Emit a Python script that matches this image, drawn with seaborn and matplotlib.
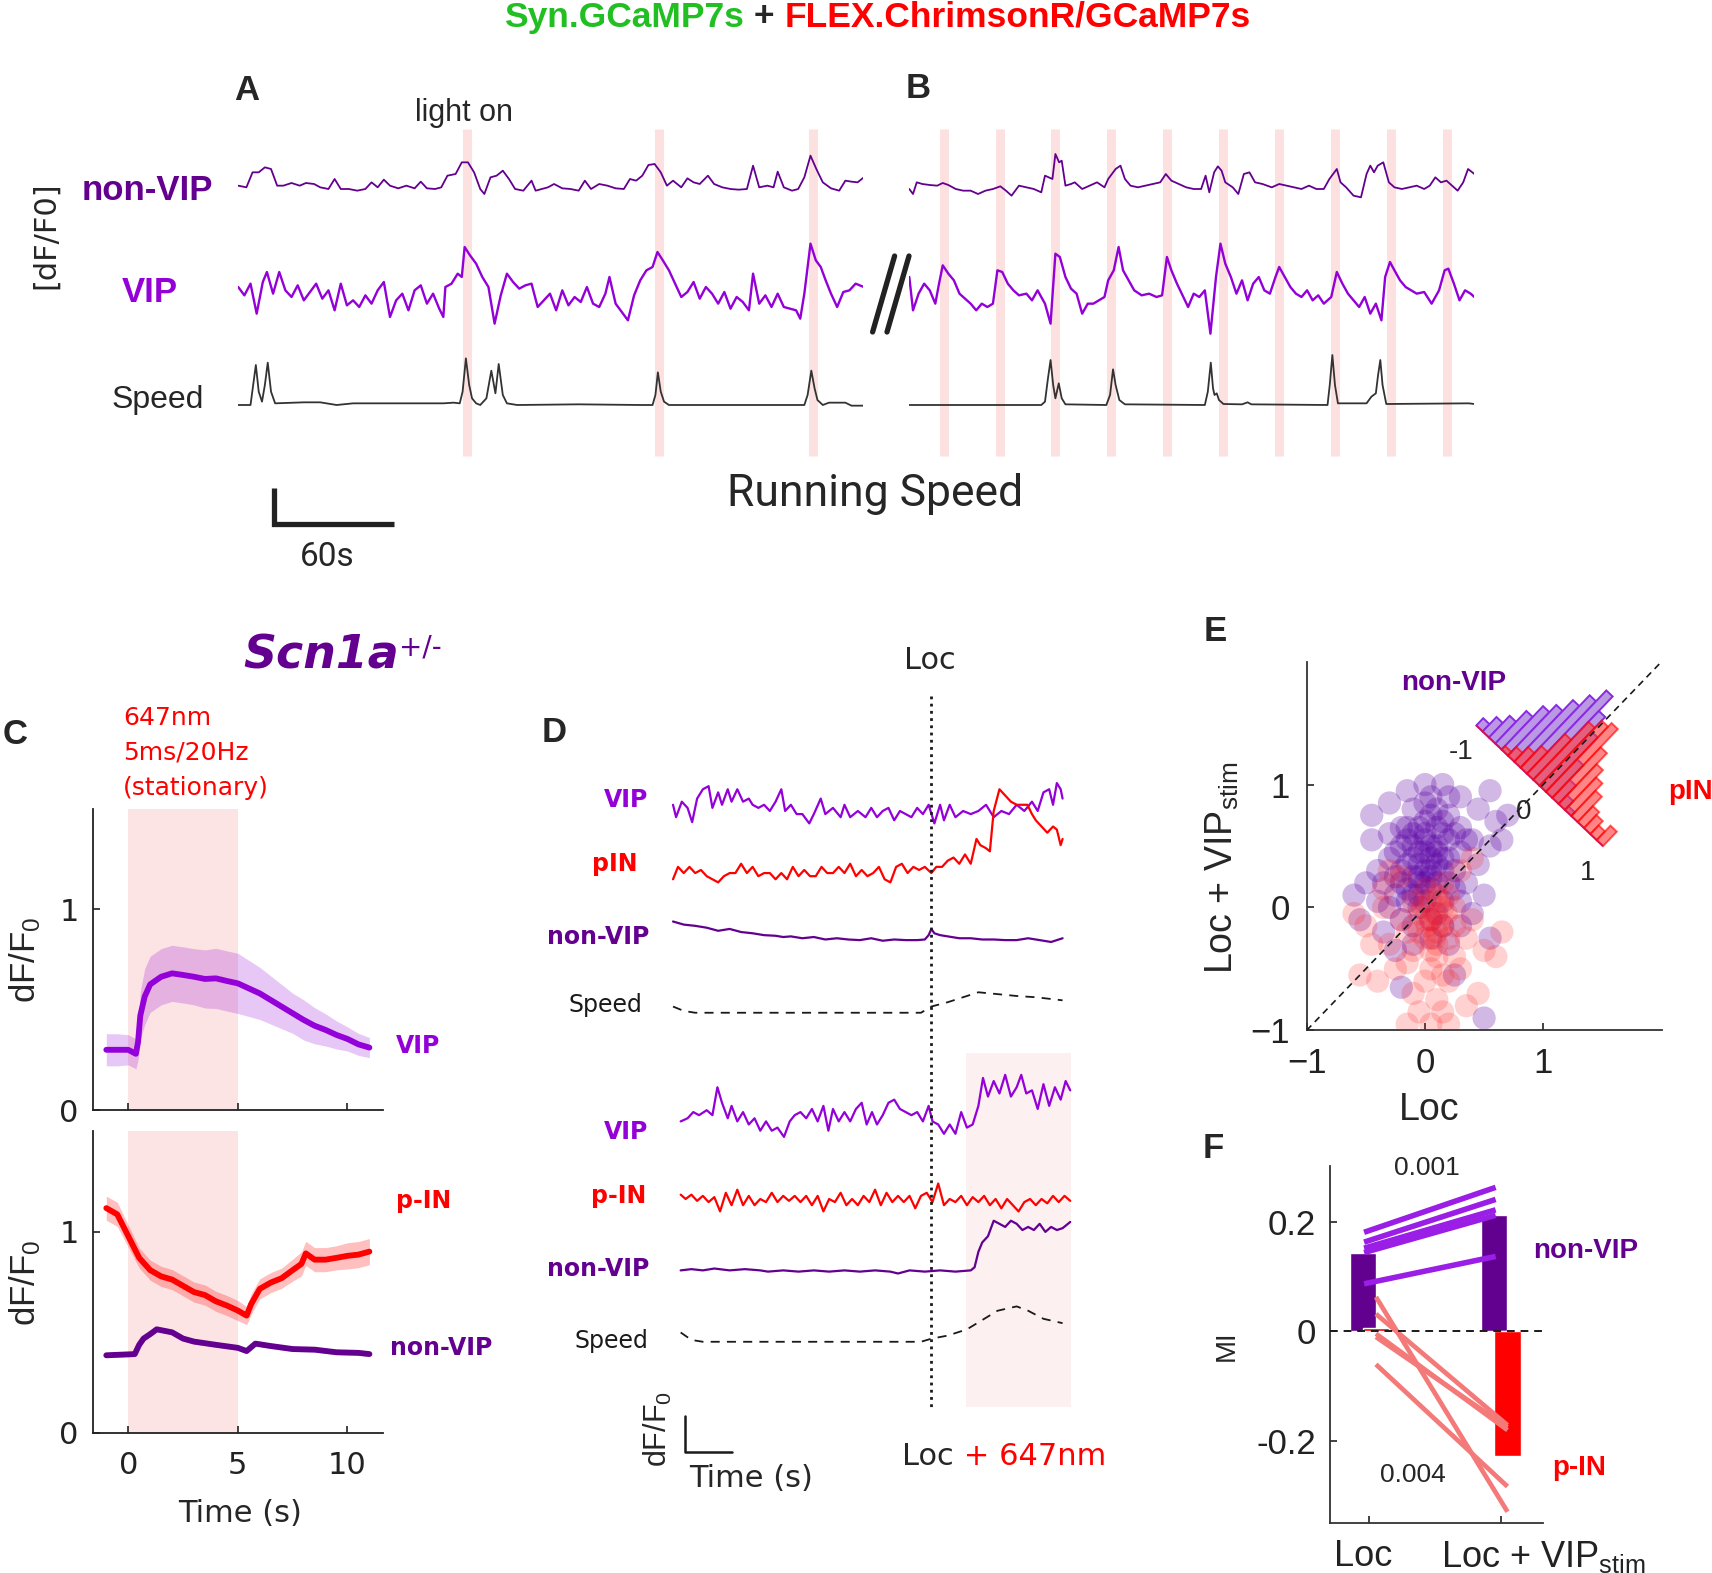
import numpy as np
import matplotlib
matplotlib.use("Agg")
import matplotlib.pyplot as plt
import seaborn as sns
from matplotlib.lines import Line2D
from matplotlib.transforms import Affine2D, ScaledTranslation

sns.set_theme(style="ticks")
plt.rcParams["font.family"] = ["Liberation Sans", "DejaVu Sans"]
plt.rcParams["mathtext.default"] = "regular"

# ---------------- data ----------------
# A / B : example traces, x in imaging frames, y in trace units
FPS = 4.875  # frames per second for panels A/B

a_light = [577, 1046, 1420]
b_light = [118, 268, 418, 568, 718, 870, 1020, 1170, 1320, 1472]

a_nv_x = [20, 40, 55, 70, 85, 100, 115, 130, 150, 170, 185, 205, 220, 240, 255, 270, 290, 310, 330, 345,
          360, 375, 390, 410, 430, 450, 465, 480, 500, 515, 530, 550, 565, 580, 595, 610, 620, 635, 650, 665,
          680, 695, 715, 735, 745, 760, 775, 790, 810, 830, 850, 865, 880, 900, 920, 940, 960, 975, 990, 1005,
          1020, 1035, 1050, 1065, 1080, 1100, 1115, 1130, 1145, 1165, 1180, 1200, 1220, 1240, 1260, 1275, 1290,
          1310, 1325, 1335, 1350, 1370, 1385, 1400, 1415, 1430, 1445, 1465, 1485, 1500, 1515, 1530, 1545]
a_nv_y = [10, 5, 50, 50, 65, 60, 10, 10, 18, 10, 18, 15, 5, 0, 30, 0, 0, -5, 0, 20,
          5, 28, 10, 2, 10, 2, 22, 2, 0, 5, 40, 45, 80, 80, 50, 0, -15, 35, 40, 55,
          30, 0, -5, 25, -5, 0, 5, 15, 2, 0, -5, 25, 0, 15, 10, 2, 0, 30, 25, 40,
          72, 75, 50, 10, 25, 5, 32, 20, 15, 40, 15, 5, 0, -2, 0, 70, 5,
          10, 5, 52, 5, -5, 0, 35, 100, 58, 20, 2, -5, 25, 22, 20, 35]

a_vip_x = [20, 35, 50, 65, 80, 90, 105, 120, 135, 150, 165, 180, 195, 210, 225, 240, 255, 270, 285, 300,
           315, 330, 345, 360, 375, 390, 405, 420, 435, 450, 465, 480, 495, 510, 520, 525, 540, 555, 565, 572,
           585, 600, 615, 630, 645, 660, 675, 690, 705, 720, 735, 750, 765, 780, 795, 810, 825, 840, 855, 870,
           885, 900, 915, 925, 940, 955, 970, 985, 1000, 1015, 1030, 1042, 1055, 1070, 1085, 1100, 1115, 1130,
           1145, 1160, 1175, 1190, 1205, 1220, 1235, 1250, 1265, 1275, 1290, 1305, 1320, 1335, 1350, 1365,
           1380, 1390, 1400, 1415, 1428, 1440, 1452, 1465, 1480, 1495, 1510, 1525, 1545]
a_vip_y = [30, 5, 40, -50, 45, 75, 10, 75, 20, 0, 35, -10, 15, 40, -5, 20, -40, 40, -25, -10,
           -30, 5, -20, 20, 45, -60, -10, 10, -40, 20, 35, -20, 10, -35, -60, 30, 40, 70, 60, 150,
           125, 100, 60, 30, -80, 5, 70, 45, 25, 35, 40, -30, -10, 10, -40, 20, -25, 0, -15, 30,
           -20, -30, 10, 60, -20, -45, -70, 5, 50, 80, 90, 135, 110, 80, 40, 0, 15, 45,
           -5, 30, 10, -20, 15, -35, 0, -15, -40, 70, -20, 5, -30, 10, -30, -35,
           -40, -65, 10, 160, 110, 90, 50, 10, -30, 15, 20, 40, 30]

a_spd_x = [20, 50, 63, 70, 78, 85, 92, 100, 110, 180, 220, 260, 300, 340, 450, 520, 545, 560, 567, 575,
           583, 590, 600, 610, 625, 637, 647, 655, 665, 675, 700, 850, 1000, 1030, 1037, 1043, 1050, 1058,
           1070, 1300, 1400, 1408, 1417, 1425, 1432, 1445, 1460, 1500, 1515, 1545]
a_spd_y = [0, 0, 120, 40, 10, 60, 127, 40, 5, 8, 8, 0, 5, 5, 5, 5, 7, 5, 40, 140,
           60, 20, 5, 0, 20, 103, 35, 123, 30, 5, 0, 2, 0, 0, 30, 98, 40, 10,
           0, 0, 0, 30, 103, 50, 15, 0, 7, 7, -2, -2]

b_nv_x = [25, 35, 45, 60, 80, 100, 115, 130, 150, 170, 190, 210, 230, 250, 270, 285, 300, 320, 340, 360,
          380, 390, 400, 410, 418, 428, 435, 445, 460, 470, 490, 510, 530, 550, 560, 570, 580, 593, 605, 620,
          640, 660, 680, 700, 715, 730, 750, 770, 790, 810, 822, 832, 845, 855, 865, 875, 895, 910, 925, 940,
          955, 975, 1000, 1020, 1040, 1060, 1080, 1100, 1120, 1140, 1155, 1165, 1175, 1185, 1200, 1220, 1240,
          1255, 1265, 1275, 1285, 1300, 1315, 1330, 1350, 1370, 1390, 1410, 1425, 1440, 1455, 1470, 1485,
          1500, 1515, 1528, 1545]
b_nv_y = [0, -15, 20, 15, 12, 10, 18, 12, 0, -5, -5, -15, -5, 0, 8, -5, -20, 10, 5, 0,
          -10, 40, 35, 30, 105, 80, 85, 10, 15, 20, 0, 10, 20, 5, 30, 45, 60, 70, 30, 10,
          5, 10, 15, 20, 45, 25, 15, 5, 0, 0, 40, -10, 50, 68, 55, 20, 5, -15, 45, 50,
          20, 15, 5, 15, 10, 5, 0, 10, 0, 0, 30, 45, 60, 20, 5, -20, -25,
          45, 70, 50, 70, 80, 20, 5, 0, 5, 10, 0, 10, 35, 20, 25, 10,
          -5, 20, 60, 45]

b_vip_x = [25, 35, 50, 65, 80, 95, 105, 115, 130, 145, 160, 175, 190, 205, 220, 235, 250, 262, 275, 290,
           305, 320, 340, 355, 370, 390, 405, 418, 430, 445, 460, 475, 490, 505, 520, 535, 550, 560, 575, 588,
           600, 615, 630, 650, 670, 690, 705, 718, 730, 745, 760, 775, 790, 805, 820, 835, 850, 862, 875, 890,
           905, 920, 935, 950, 965, 980, 995, 1010, 1020, 1035, 1050, 1065, 1080, 1095, 1110, 1125, 1140, 1160,
           1175, 1190, 1205, 1220, 1235, 1250, 1265, 1280, 1295, 1305, 1318, 1330, 1345, 1360, 1375, 1390,
           1410, 1430, 1450, 1465, 1475, 1490, 1505, 1520, 1535, 1545]
b_vip_y = [60, -40, 10, 40, 20, -20, 40, 95, 70, 50, 10, -5, -20, -40, -20, -30, -20, 80, 75, 40,
           20, 5, 10, -10, 20, -20, -80, 130, 120, 60, 25, 10, -50, -20, -20, -10, 0, 50, 80, 150,
           80, 50, 20, 5, 10, 0, 5, 120, 80, 40, 5, -30, 10, 0, 20, -110, 60, 160, 100, 60,
           10, 50, -10, 40, 60, 20, 10, 60, 90, 60, 30, 10, 0, 20, -10, 5, -20, 0,
           75, 40, 10, -10, -30, 0, -50, -20, -70, 60, 105, 80, 50, 30, 20, 10,
           15, -20, 20, 80, 85, 40, -10, 20, 10, 0]

b_spd_x = [25, 380, 390, 398, 405, 412, 418, 427, 435, 445, 555, 565, 573, 580, 590, 605, 820, 828, 836, 842,
           846, 852, 858, 870, 920, 935, 945, 1150, 1156, 1163, 1170, 1178, 1255, 1268, 1280, 1286, 1292, 1298,
           1308, 1530, 1545]
b_spd_y = [0, 0, 10, 80, 135, 60, 20, 65, 20, 2, 0, 30, 107, 60, 15, 2, 0, 40, 127, 50,
           30, 35, 15, 3, 2, 8, 2, 0, 60, 150, 60, 5, 5, 25, 35, 90, 135, 60,
           3, 5, 3]

# C : mean +/- sem, dF/F0 vs time (s)
c_vip_t = [-1, -0.5, 0, 0.35, 0.45, 0.55, 0.75, 1, 1.5, 2, 2.5, 3, 3.5, 4, 4.5, 5, 5.5, 6, 6.5, 7, 7.5, 8,
           8.5, 9, 9.5, 10, 10.5, 11]
c_vip_mean = [0.30, 0.30, 0.30, 0.28, 0.34, 0.47, 0.565, 0.626, 0.664, 0.681, 0.673, 0.664, 0.653, 0.656,
              0.643, 0.631, 0.606, 0.581, 0.548, 0.515, 0.482, 0.449, 0.42, 0.399, 0.374, 0.354, 0.327, 0.311]
c_vip_err = [0.08, 0.08, 0.075, 0.075, 0.09, 0.12, 0.14, 0.14, 0.14, 0.14, 0.14, 0.14, 0.145, 0.15, 0.15,
             0.15, 0.14, 0.13, 0.12, 0.11, 0.1, 0.1, 0.09, 0.08, 0.07, 0.06, 0.055, 0.05]

c_pin_t = [-1, -0.5, 0, 0.5, 1, 1.5, 2, 2.5, 3, 3.5, 4, 4.5, 5, 5.4, 5.6, 6, 6.5, 7, 7.5, 7.9, 8.1, 8.5, 9,
           9.5, 10, 10.5, 11]
c_pin_mean = [1.117, 1.086, 0.978, 0.87, 0.809, 0.778, 0.762, 0.731, 0.70, 0.685, 0.654, 0.633, 0.608,
              0.583, 0.639, 0.716, 0.747, 0.769, 0.809, 0.84, 0.892, 0.861, 0.861, 0.87, 0.88, 0.886, 0.901]
c_pin_err = [0.06, 0.06, 0.055, 0.05, 0.05, 0.05, 0.05, 0.05, 0.05, 0.05, 0.05, 0.05, 0.05, 0.045, 0.05,
             0.05, 0.05, 0.05, 0.055, 0.06, 0.06, 0.06, 0.06, 0.06, 0.065, 0.065, 0.065]

c_nv_t = [-1, 0.3, 0.5, 0.7, 1, 1.3, 2, 2.5, 3, 4, 5, 5.4, 5.8, 6.5, 7.5, 8.5, 9.5, 10.5, 11]
c_nv_mean = [0.386, 0.392, 0.438, 0.469, 0.491, 0.515, 0.5, 0.469, 0.454, 0.438, 0.423, 0.407, 0.444,
             0.432, 0.417, 0.414, 0.401, 0.398, 0.392]
c_nv_err = [0.012] * len(c_nv_t)

# D : single-trial examples, x in frames (Loc onset at frame 1127), y in trace units
LOC_FRAME = 1127
d1_vip_x = [452, 460, 475, 490, 502, 515, 530, 545, 555, 570, 580, 595, 605, 620, 635, 650, 660, 675, 690,
            705, 720, 735, 745, 760, 775, 790, 808, 820, 838, 850, 870, 890, 900, 915, 935, 955, 970, 985,
            1000, 1015, 1030, 1045, 1060, 1075, 1090, 1105, 1120, 1135, 1150, 1160, 1175, 1190, 1210, 1230,
            1250, 1270, 1290, 1310, 1330, 1350, 1370, 1390, 1405, 1420, 1435, 1445, 1455, 1465, 1470]
d1_vip_y = [15, -5, 20, 10, -13, 25, 40, 45, 10, 35, 15, 40, 20, 40, 20, 25, 15, 10, 15,
            5, 20, 40, 5, 15, 0, 0, -15, 0, 25, 0, 10, -5, 15, -5, 5, -5, 10, -5,
            5, 10, -10, 5, 0, -5, 10, 0, 15, -15, 15, -10, 15, -5, 5, 0,
            5, 15, -5, 5, 0, 15, 5, 20, 5, 35, 40, 15, 50, 40, 25]
d1_pin_x = [452, 465, 480, 495, 510, 525, 540, 555, 570, 585, 600, 615, 630, 645, 660, 675, 690, 705, 720,
            735, 750, 765, 780, 795, 810, 825, 840, 855, 870, 885, 900, 915, 930, 945, 960, 975, 990, 1005,
            1020, 1035, 1050, 1065, 1080, 1095, 1110, 1127, 1140, 1155, 1170, 1185, 1200, 1215, 1230, 1245,
            1255, 1270, 1280, 1290, 1305, 1320, 1335, 1350, 1365, 1378, 1390, 1400, 1415, 1430, 1445, 1455,
            1465, 1470]
d1_pin_y = [-5, 15, 5, 15, 5, 10, 0, -5, -10, 0, 5, 5, 20, 5, 15, 0, 5, 5, -5,
            5, -5, 15, 0, 10, 0, 0, 15, 5, 5, 15, 5, 20, 0, 10, 0, 5, 15, -5,
            -10, 15, 20, 5, 15, 10, 15, 5, 15, 15, 25, 30, 20, 35, 20, 60,
            50, 45, 40, 105, 140, 130, 120, 115, 115, 115, 100, 90, 80, 70, 80, 75,
            50, 60]
d1_nv_x = [452, 480, 510, 540, 570, 600, 630, 660, 690, 720, 740, 760, 790, 820, 850, 880, 910, 940, 970,
           1000, 1030, 1060, 1090, 1110, 1120, 1127, 1135, 1150, 1170, 1200, 1230, 1260, 1290, 1320, 1350,
           1380, 1410, 1440, 1470]
d1_nv_y = [27, 22, 20, 17, 12, 15, 10, 8, 5, 4, 2, 3, 0, 2, -2, 0, -2, -3, 0,
           -4, -2, -3, -3, -2, 5, 15, 8, 5, 3, 0, 0, -2, -2, -3, -3,
           0, -3, -6, 0]
d1_spd_x = [452, 480, 510, 600, 700, 800, 900, 1000, 1100, 1127, 1170, 1210, 1250, 1300, 1350, 1400, 1470]
d1_spd_y = [10, 3, 0, 0, 0, 0, 0, 0, 0, 10, 17, 25, 33, 30, 27, 25, 20]

d2_vip_x = [472, 490, 505, 520, 540, 555, 568, 580, 595, 605, 620, 635, 650, 665, 680, 695, 710, 725, 742,
            757, 770, 785, 800, 815, 830, 845, 858, 870, 885, 900, 915, 930, 945, 958, 972, 985, 1000, 1015,
            1030, 1045, 1060, 1075, 1090, 1105, 1120, 1130, 1145, 1160, 1175, 1190, 1205, 1220, 1235, 1250,
            1262, 1275, 1290, 1305, 1320, 1335, 1350, 1362, 1375, 1390, 1405, 1420, 1435, 1450, 1465, 1478,
            1490]
d2_vip_y = [0, 5, 15, 10, 18, 10, 55, 30, 5, 25, 0, 15, -5, 5, -15, 0, -15, -10, -25,
            0, 10, 15, 5, 20, 0, 25, -15, 20, 0, 15, 0, 20, 30, -5, 15, -5, 10, 30,
            35, 20, 15, 10, 15, 0, 25, 0, -5, -20, -5, -20, 15, -10, -5, 25,
            70, 40, 65, 45, 75, 40, 55, 75, 45, 50, 20, 60, 25, 55, 35, 65,
            50]
d2_pin_x = [472, 485, 500, 515, 530, 545, 560, 575, 590, 605, 620, 635, 650, 665, 680, 695, 710, 725, 740,
            755, 770, 785, 800, 815, 830, 845, 860, 875, 890, 905, 920, 935, 950, 965, 980, 995, 1010, 1025,
            1040, 1055, 1070, 1085, 1100, 1115, 1130, 1145, 1160, 1175, 1190, 1205, 1220, 1235, 1250, 1265,
            1280, 1295, 1310, 1325, 1340, 1355, 1370, 1385, 1400, 1415, 1430, 1445, 1460, 1475, 1490]
d2_pin_y = [7, 0, 7, -3, 5, -5, 3, -20, 10, -10, 15, -10, 5, -10, 0, -5, 10, -5, 5,
            -3, 5, -5, 5, -10, 5, -20, 0, -5, 10, -10, 0, -10, 5, -5, 15, -10, 10, -5,
            5, -5, 5, -15, 5, 10, -5, 25, -10, 0, -5, 5, -10, 3, -5, 5,
            -10, 0, -15, 0, -10, -20, -5, 0, -10, 0, -7, 5, -5, 5, -3]
d2_nv_x = [472, 500, 530, 560, 600, 640, 680, 700, 740, 780, 820, 860, 900, 940, 980, 1020, 1040, 1070,
           1110, 1150, 1190, 1230, 1240, 1250, 1260, 1275, 1290, 1305, 1320, 1335, 1350, 1365, 1380, 1395,
           1410, 1425, 1440, 1455, 1470, 1490]
d2_nv_y = [0, 2, 0, 3, 0, 2, 0, -2, 0, -2, 0, -2, 0, -2, 0, -2, -5, 0,
           -2, 0, -2, 0, 5, 30, 45, 55, 80, 75, 70, 80, 75, 65, 70, 65,
           75, 62, 70, 65, 68, 78]
d2_spd_x = [472, 500, 530, 600, 700, 800, 900, 1000, 1100, 1127, 1170, 1220, 1260, 1300, 1350, 1380, 1420, 1470]
d2_spd_y = [15, 3, 0, 0, 0, 0, 0, 0, 0, 5, 10, 20, 35, 50, 57, 50, 37, 30]
d2_light = [1218, 1492]

# E : modulation index, Loc vs Loc + VIPstim
e_nv_x = [-0.2, -0.1, 0, 0.1, 0.2, -0.15, -0.05, 0.05, 0.15, 0.25, -0.2, -0.1, 0, 0.1, 0.2, -0.15, -0.05,
          0.05, 0.15, 0.3, -0.25, 0, 0.1, -0.1, 0.05, -0.05, 0.1, -0.2, 0.2, 0.3, -0.3, -0.3, -0.45, -0.5,
          -0.4, -0.35, -0.45, -0.3, -0.15, 0.0, 0.15, 0.3, 0.45, 0.55, 0.6, 0.65, 0.45, 0.5, 0.4, 0.3, 0.2,
          0.05, -0.1, -0.25, -0.55, -0.6, 0.7, 0.55, 0.35, 0.4, -0.4, 0.25, 0.5, -0.2, 0.55,
          -0.05, 0.05, 0.0, -0.1, 0.1, 0.0, -0.05, 0.05, 0.15, -0.15,
          -0.25, -0.15, -0.05, 0.05, 0.15, 0.25, -0.2, -0.1, 0.0, 0.1, 0.2, 0.25, -0.25, -0.15, -0.05,
          0.05, 0.15, -0.1, 0.0, 0.1, -0.2, 0.0, 0.2, -0.35, 0.35, -0.1, 0.15, 0.3, -0.3, 0.05]
e_nv_y = [0.5, 0.6, 0.7, 0.65, 0.55, 0.35, 0.45, 0.5, 0.4, 0.3, 0.2, 0.25, 0.3, 0.35, 0.2, 0.05, 0.1,
          0.15, 0.05, 0.45, 0.1, 0.55, 0.8, 0.8, 0.9, 0.0, -0.05, -0.1, 0.75, 0.65, 0.4, 0.6, 0.55, 0.2,
          0.05, -0.2, 0.75, 0.85, 0.95, 1.0, 1.0, 0.9, 0.8, 0.95, 0.7, 0.55, 0.35, 0.1, -0.05, -0.15, -0.3,
          -0.25, -0.3, -0.35, -0.1, 0.1, 0.75, -0.25, 0.2, 0.55, 0.3, -0.55, -0.9, -0.65, 0.5,
          0.35, 0.4, 0.2, 0.5, 0.5, 0.6, 0.25, 0.3, 0.6, 0.65,
          0.45, 0.55, 0.65, 0.75, 0.7, 0.6, 0.3, 0.4, 0.45, 0.45, 0.4, 0.15, 0.25, 0.15, 0.2,
          0.25, 0.3, 0.1, 0.05, 0.2, 0.65, 0.85, 0.9, 0.2, 0.55, -0.15, -0.15, 0.05, 0.0, -0.1]
e_pin_x = [0.05, 0.1, 0.0, 0.15, 0.1, 0.05, -0.05, 0.15, 0.2, 0.1, -0.05, 0.0, 0.15, 0.05, -0.3, -0.25,
           -0.2, -0.35, -0.15, 0.25, 0.35, 0.3, 0.2, 0.0, -0.1, 0.1, 0.15, 0.05, -0.05, -0.4, -0.45, -0.5,
           0.4, 0.5, 0.6, 0.45, 0.65, -0.6, -0.3, -0.35, 0.3, 0.4, -0.2, 0.25, -0.1, -0.55, 0.2, -0.15, 0.35,
           0.08, 0.12, 0.02,
           0.08, 0.12, 0.0, 0.18, -0.02, 0.1, 0.2, -0.1, 0.05, -0.15, 0.25, 0.15]
e_pin_y = [-0.1, -0.2, -0.25, 0.0, 0.1, 0.05, -0.05, -0.15, 0.1, -0.3, -0.2, 0.15, 0.2, -0.35, -0.3, -0.5,
           -0.1, 0.0, -0.45, -0.4, -0.25, -0.5, -0.6, -0.6, -0.7, -0.75, -0.85, -0.95, -0.85, -0.6, -0.3, -0.15,
           -0.1, -0.35, -0.4, -0.7, -0.2, -0.05, 0.3, 0.15, 0.3, 0.4, 0.25, -0.15, 0.05, -0.55, -0.95, -0.95, -0.8,
           -0.05, -0.12, -0.15,
           -0.25, 0.05, -0.1, -0.05, 0.0, -0.4, -0.25, -0.35, -0.5, -0.2, 0.0, -0.55]

# E inset: histogram of (Loc + VIPstim) - Loc, projected on the anti-diagonal
e_hist_bins = [-0.95, -0.85, -0.75, -0.65, -0.55, -0.45, -0.35, -0.25, -0.15, -0.05,
               0.05, 0.15, 0.25, 0.35, 0.45, 0.55, 0.65, 0.75, 0.85, 0.95]
e_hist_nv = [10, 20, 30, 45, 60, 70, 85, 100, 115, 95, 75, 45, 25, 12, 5, 0, 0, 0, 0, 0]
e_hist_pin = [0, 0, 0, 0, 5, 12, 20, 30, 55, 80, 90, 95, 70, 55, 45, 35, 22, 18, 12, 20]

# F : MI per condition
f_conditions = ["Loc", "Loc + VIP$_{stim}$"]
f_nv_bar = [0.143, 0.212]
f_pin_bar = [0.006, -0.228]
f_nv_loc = [0.181, 0.163, 0.152, 0.144, 0.087]
f_nv_stim = [0.263, 0.241, 0.222, 0.212, 0.137]
f_pin_loc = [0.063, 0.032, -0.004, -0.010, -0.06]
f_pin_stim = [-0.329, -0.171, -0.18, -0.175, -0.283]

# ---------------- style ----------------
VIP = "#9400d8"
NONVIP = "#63008f"
RED = "#ff0000"
GREEN = "#22bf22"
BAR_PINK = "#fde0e0"
STIM_PINK = "#fde4e4"

W, H = 1712, 1573
fig = plt.figure(figsize=(W / 100, H / 100), dpi=100)


def fx(x):
    return x / W


def fy(y):
    return 1 - y / H


def add_ax(l, t, r, b):
    return fig.add_axes([fx(l), fy(b), (r - l) / W, (b - t) / H])


def ftext(x, y, s, **kw):
    kw.setdefault("ha", "center")
    kw.setdefault("va", "center")
    return fig.text(fx(x), fy(y), s, **kw)


# ---------------- A / B ----------------
ax_a = add_ax(238, 120, 863, 560)
ax_b = add_ax(909, 120, 1474, 560)
ax_a.set_xlim(19.5, 1543)
ax_b.set_xlim(24.2, 1544)
for ax in (ax_a, ax_b):
    ax.set_ylim(0, 440)
    ax.axis("off")
ax_a.vlines(a_light, 104, 431, color=BAR_PINK, lw=6.5, zorder=0)
ax_b.vlines(b_light, 104, 431, color=BAR_PINK, lw=6.5, zorder=0)

for ax, nx, ny, vx, vy, sx, sy in ((ax_a, a_nv_x, a_nv_y, a_vip_x, a_vip_y, a_spd_x, a_spd_y),
                                   (ax_b, b_nv_x, b_nv_y, b_vip_x, b_vip_y, b_spd_x, b_spd_y)):
    ax.plot(nx, 371 + np.array(ny) / 3, color=NONVIP, lw=1.3)
    ax.plot(vx, 263 + np.array(vy) / 3, color=VIP, lw=1.7)
    ax.plot(sx, 155 + np.array(sy) / 3, color="#333333", lw=1.3)

# 60 s scale bar
ax_a.plot([107, 107, 107 + 60 * FPS], [72, 36, 36], color="#222222", lw=3.8,
          solid_capstyle="butt", solid_joinstyle="miter", clip_on=False)

for x0, x1 in ((872.6, 894.6), (887.0, 909.0)):
    fig.add_artist(Line2D([fx(x0), fx(x1)], [fy(332), fy(256)], transform=fig.transFigure,
                          color="#222222", lw=3.8))

t1 = ftext(504, 17, "Syn.GCaMP7s", ha="left", color=GREEN, fontsize=25.5, weight="bold")
t2 = ax_a.annotate(" + ", xy=(1, 0.5), xycoords=t1, ha="left", va="center", fontsize=25.5, weight="bold")
ax_a.annotate("FLEX.ChrimsonR/GCaMP7s", xy=(1, 0.5), xycoords=t2, ha="left", va="center",
              fontsize=25.5, weight="bold", color=RED)

ftext(247, 90, "A", fontsize=25, weight="bold")
ftext(918, 88, "B", fontsize=25, weight="bold")
ftext(464, 113, "light on", fontsize=22)
ftext(46, 235, "[dF/F0]", rotation=90, fontsize=22, family="DejaVu Sans")
ftext(147, 191, "non-VIP", fontsize=25, weight="bold", color=NONVIP)
ftext(150, 293, "VIP", fontsize=25, weight="bold", color=VIP)
ftext(158, 400, "Speed", fontsize=23)
ftext(327, 557, "60s", fontsize=24, family="Roboto")
ftext(875, 494, "Running Speed", fontsize=32, family="Roboto")

# ---------------- C ----------------
ax_c1 = add_ax(92.7, 809, 383, 1110)
ax_c2 = add_ax(92.7, 1131, 383, 1433)
for ax in (ax_c1, ax_c2):
    ax.axvspan(0, 5, color=STIM_PINK, lw=0, zorder=0)
    ax.set_xlim(-1.62, 11.62)
    ax.set_ylim(0, 1.5)
    sns.despine(ax=ax)
    for s in ax.spines.values():
        s.set_linewidth(1.3)
        s.set_color("#222222")
    ax.set_xticks([0, 5, 10])
    ax.set_yticks([0, 1])
    ax.set_yticklabels(["0", "1"], fontsize=22, family="DejaVu Sans")
    ax.tick_params(direction="in", length=5, width=1.2, pad=10, colors="#222222")
ax_c1.set_xticklabels([])
ax_c2.set_xticklabels(["0", "5", "10"], fontsize=22, family="DejaVu Sans")
ax_c2.tick_params(axis="x", pad=13)


def band(ax, t, m, e, color, alpha):
    m = np.array(m)
    e = np.array(e)
    ax.fill_between(t, m - e, m + e, color=color, alpha=alpha, lw=0, zorder=1)
    sns.lineplot(x=t, y=m, ax=ax, color=color, lw=4.2, zorder=2)


band(ax_c1, c_vip_t, c_vip_mean, c_vip_err, VIP, 0.22)
band(ax_c2, c_pin_t, c_pin_mean, c_pin_err, RED, 0.25)
band(ax_c2, c_nv_t, c_nv_mean, c_nv_err, NONVIP, 0.25)

ftext(15, 734, "C", fontsize=25, weight="bold")
scn = ftext(243, 656, "Scn1a", ha="left", fontsize=33, weight="bold", style="italic",
            family="DejaVu Sans", color=NONVIP)
ax_c1.annotate("+/-", xy=(1, 1), xycoords=scn, ha="left", va="top", fontsize=20,
               family="DejaVu Sans", color=NONVIP)
for y, s in ((718, "647nm"), (752, "5ms/20Hz"), (788, "(stationary)")):
    ftext(123, y, s, ha="left", fontsize=18, color=RED, family="DejaVu Sans")
ftext(25, 960, "dF/F$_0$", rotation=90, fontsize=25)
ftext(25, 1283, "dF/F$_0$", rotation=90, fontsize=25)
ftext(240, 1513, "Time (s)", fontsize=22, family="DejaVu Sans")
ftext(418, 1046, "VIP", fontsize=17, weight="bold", family="DejaVu Sans", color=VIP)
ftext(424, 1201, "p-IN", fontsize=17, weight="bold", family="DejaVu Sans", color=RED)
ftext(441, 1348, "non-VIP", fontsize=17, weight="bold", family="DejaVu Sans", color=NONVIP)

# ---------------- D ----------------
ax_d = add_ax(660, 680, 1080, 1420)
ax_d.set_xlim(418, 1515.5)
ax_d.set_ylim(1321, 129)
ax_d.axis("off")
ax_d.axvspan(d2_light[0], d2_light[1], ymin=(1321 - 1300) / 1192, ymax=(1321 - 730) / 1192,
             color="#fdf0f0", lw=0, zorder=0)
ax_d.vlines(LOC_FRAME, 155, 1300, color="k", lw=2.0, linestyles=(0, (1, 1.6)), zorder=5)

traces_d = [
    (d1_vip_x, d1_vip_y, 345, VIP, "-", 1.6),
    (d1_pin_x, d1_pin_y, 445, RED, "-", 1.6),
    (d1_nv_x, d1_nv_y, 545, NONVIP, "-", 1.6),
    (d1_spd_x, d1_spd_y, 665, "k", (0, (5, 4)), 1.3),
    (d2_vip_x, d2_vip_y, 840, VIP, "-", 1.6),
    (d2_pin_x, d2_pin_y, 965, RED, "-", 1.6),
    (d2_nv_x, d2_nv_y, 1080, NONVIP, "-", 1.6),
    (d2_spd_x, d2_spd_y, 1195, "k", (0, (5, 4)), 1.3),
]
for x, y, base, col, ls, lw in traces_d:
    ax_d.plot(x, base - np.array(y), color=col, ls=ls, lw=lw, zorder=2)

d_labels = [(322, "VIP", VIP, "bold"), (425, "pIN", RED, "bold"), (543, "non-VIP", NONVIP, "bold"),
            (652, "Speed", "k", "normal"), (857, "VIP", VIP, "bold"), (960, "p-IN", RED, "bold"),
            (1078, "non-VIP", NONVIP, "bold"), (1193, "Speed", "k", "normal")]
d_label_right = [388, 358, 390, 372, 388, 383, 390, 387]
for (y, s, c, wgt), xr in zip(d_labels, d_label_right):
    ax_d.text(xr, y, s, ha="right", va="center", color=c, weight=wgt, fontsize=17, family="DejaVu Sans")

ax_d.text(1122, 97, "Loc", ha="center", va="center", fontsize=22, family="DejaVu Sans")
ax_d.plot([483, 483, 605], [1315, 1372, 1372], color="k", lw=1.8, clip_on=False)
ax_d.text(413, 1335, "dF/F$_0$", rotation=90, ha="center", va="center", fontsize=22)
ax_d.text(655, 1415, "Time (s)", ha="center", va="center", fontsize=22, family="DejaVu Sans")
loc_t = ax_d.text(1050, 1380, "Loc", ha="left", va="center", fontsize=22, family="DejaVu Sans")
ax_d.annotate(" + 647nm", xy=(1, 0.5), xycoords=loc_t, ha="left", va="center", fontsize=22,
              family="DejaVu Sans", color=RED)
ftext(554, 732, "D", fontsize=25, weight="bold")

# ---------------- E ----------------
ax_e = add_ax(1306.7, 661.7, 1661.5, 1030.3)
ax_e.set_xlim(-1, 2)
ax_e.set_ylim(-1, 2)
sns.despine(ax=ax_e)
for s in ax_e.spines.values():
    s.set_linewidth(1.3)
    s.set_color("#333333")
ax_e.set_xticks([-1, 0, 1])
ax_e.set_yticks([-1, 0, 1])
ax_e.tick_params(direction="in", length=5, width=1.2, labelsize=25, pad=12, colors="#222222")
sns.scatterplot(x=e_nv_x, y=e_nv_y, ax=ax_e, color="#5a00a5", s=280, alpha=0.28, edgecolor="none",
                linewidth=0, zorder=2)
sns.scatterplot(x=e_pin_x, y=e_pin_y, ax=ax_e, color="#ff1a1a", s=280, alpha=0.2, edgecolor="none",
                linewidth=0, zorder=3)
ax_e.plot([-1, 2], [-1, 2], ls=(0, (4, 3)), color="k", lw=1.2, zorder=6)

ox, oy = ax_e.transData.transform((0.97, 0.99))
hist_tr = Affine2D().scale(87.5, 1.0).rotate_deg(-43.6).translate(ox, oy)
ax_e.bar(e_hist_bins, e_hist_nv, width=0.1, transform=hist_tr, color="#bb98e4", edgecolor="#8a2be2",
         lw=1.4, clip_on=False, zorder=4)
ax_e.bar(e_hist_bins, e_hist_pin, width=0.1, transform=hist_tr, color="#ff3c3c", alpha=0.62,
         edgecolor=RED, lw=1.4, clip_on=False, zorder=5)
for v, s in ((-1, "-1"), (0, "0"), (1, "1")):
    ax_e.text(v + 0.08, -30, s, transform=hist_tr, ha="center", va="center", fontsize=20, zorder=7)

ftext(1215, 632, "E", fontsize=25, weight="bold")
ftext(1454, 683, "non-VIP", fontsize=20, weight="bold", color=NONVIP)
ftext(1668, 792, "pIN", ha="left", fontsize=20, weight="bold", color=RED)
ftext(1222, 868, "Loc + VIP$_{stim}$", rotation=90, fontsize=27)
ftext(1429, 1110, "Loc", fontsize=27)

# ---------------- F ----------------
ax_f = add_ax(1329.9, 1166, 1543, 1522.7)
ax_f.set_xlim(0.70, 2.32)
ax_f.set_ylim(-0.349, 0.302)
sns.despine(ax=ax_f)
for s in ax_f.spines.values():
    s.set_linewidth(1.3)
    s.set_color("#333333")
xpos = np.arange(1, len(f_conditions) + 1)
ax_f.bar(xpos - 0.05, f_nv_bar, width=0.2, color="#62008f", zorder=2)
ax_f.bar(xpos + 0.05, f_pin_bar, width=0.2, color=RED, zorder=2)
for a, b in zip(f_nv_loc, f_nv_stim):
    ax_f.plot(xpos - 0.04, [a, b], color="#9a1ee6", lw=4.0, solid_capstyle="butt", zorder=3)
for a, b in zip(f_pin_loc, f_pin_stim):
    ax_f.plot(xpos + 0.05, [a, b], color="#f47a7a", lw=3.4, solid_capstyle="butt", zorder=3)
ax_f.axhline(0, ls=(0, (4, 3)), color="k", lw=1.4, zorder=4)
ax_f.set_xticks(xpos)
ax_f.set_xticklabels(f_conditions)
ax_f.set_yticks([-0.2, 0, 0.2])
ax_f.set_yticklabels(["-0.2", "0", "0.2"])
ax_f.tick_params(direction="in", length=5, width=1.2, labelsize=25, colors="#222222")
ax_f.tick_params(axis="y", pad=10)
ax_f.tick_params(axis="x", pad=12, labelsize=26)
# second category label sits to the right of its tick in the original
lab2 = ax_f.get_xticklabels()[1]
lab2.set_transform(lab2.get_transform() + ScaledTranslation(0.42, 0, fig.dpi_scale_trans))
lab1 = ax_f.get_xticklabels()[0]
lab1.set_transform(lab1.get_transform() + ScaledTranslation(-0.06, 0, fig.dpi_scale_trans))

ftext(1213, 1149, "F", fontsize=25, weight="bold")
ftext(1427, 1168, "0.001", fontsize=19)
ftext(1413, 1475, "0.004", fontsize=19)
ftext(1586, 1251, "non-VIP", fontsize=20, weight="bold", color=NONVIP)
ftext(1579, 1468, "p-IN", fontsize=20, weight="bold", color=RED)
ftext(1227, 1346, "MI", rotation=90, fontsize=20)

fig.savefig("out.png", dpi=100)
